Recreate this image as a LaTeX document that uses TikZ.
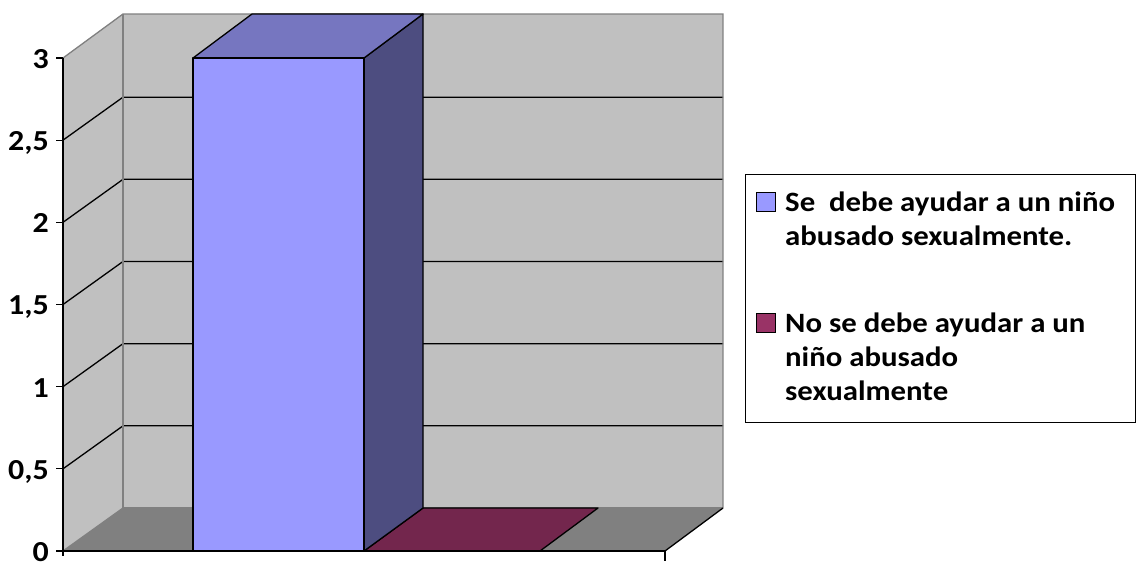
\documentclass[tikz,border=0pt]{standalone}
\usepackage{fontspec}
\setmainfont{Carlito}
\newfontfamily\chartfont[FakeStretch=1.1]{Carlito}
\definecolor{wall}{HTML}{C0C0C0}
\definecolor{floorc}{HTML}{808080}
\definecolor{edgegray}{HTML}{808080}
\definecolor{barfront}{HTML}{9999FF}
\definecolor{bartop}{HTML}{7676C0}
\definecolor{barside}{HTML}{4D4D80}
\definecolor{bartwo}{HTML}{73264D}
\definecolor{legtwo}{HTML}{993366}
\tikzset{
  grid line/.style={draw=black, line width=1.3pt},
  gray edge/.style={draw=edgegray, line width=1.3pt},
  bar edge/.style={draw=black, line width=1.3pt, line join=round},
  ylab/.style={anchor=base east, font=\chartfont\bfseries\fontsize{29}{33}\selectfont, inner sep=0pt, text depth=0pt},
  legtext/.style={anchor=base west, font=\chartfont\bfseries\fontsize{28}{33.6}\selectfont, align=left, inner sep=0pt},
  legmark/.style={draw=black, line width=1pt, minimum size=19pt, inner sep=0pt}
}
\begin{document}
\begin{tikzpicture}[x=1pt,y=-1pt]
\useasboundingbox (0,0) rectangle (1138,563);
% walls
\fill[wall] (63,58) -- (123,14) -- (123,508) -- (63,551) -- cycle;
\fill[wall] (123,14) rectangle (723,508);
% floor
\fill[floorc] (63,551) -- (123,508) -- (723,508) -- (665,551) -- cycle;
% grid lines
\foreach \k in {1,...,5}{
  \draw[grid line] (63,{551-\k*82.17}) -- (123,{508-\k*82.17}) -- (723,{508-\k*82.17});
}
% gray edges
\draw[gray edge] (63,58) -- (123,14) -- (723,14) -- (723,508);
\draw[gray edge] (123,14) -- (123,508);
\draw[gray edge] (63,551) -- (123,508);
\draw[gray edge] (123,508) -- (723,508);
\draw[grid line] (665,551) -- (723,508);
% bar 2 (zero value)
\filldraw[fill=bartwo, bar edge] (364,551) -- (423,508) -- (598,508) -- (540,551) -- cycle;
% bar 1
\filldraw[fill=barside, bar edge] (364,58) -- (423,14) -- (423,508) -- (364,551) -- cycle;
\filldraw[fill=bartop, bar edge] (193,58) -- (252,14) -- (423,14) -- (364,58) -- cycle;
\filldraw[fill=barfront, bar edge] (193,58) rectangle (364,551);
% axes
\draw[draw=black, line width=1.5pt] (63,58) -- (63,556);
\draw[draw=black, line width=1.5pt] (63,551) -- (665,551) -- (665,561);
\foreach \k/\lab in {0/0,1/{0,5},2/1,3/{1,5},4/2,5/{2,5},6/3}{
  \draw[draw=black, line width=1.3pt] (56,{551-\k*82.17}) -- (63,{551-\k*82.17});
  \node[ylab] (yl\k) at (49,{551-\k*82.17+10.5}) {\lab};
}
% legend
\node[draw=black, line width=1.3pt, minimum width=390pt, minimum height=248pt, anchor=north west, inner sep=0pt] (legend) at (745,174) {};
\node[legmark, fill=barfront] (m1) at (766,202) {};
\node[legmark, fill=legtwo] (m2) at (766,323) {};
\node[legtext] (t1) at (785,245) {Se\ \ debe ayudar a un niño\\abusado sexualmente.};
\node[legtext] (t2) at (785,400) {No se debe ayudar a un\\niño abusado\\sexualmente};
\end{tikzpicture}
\end{document}
